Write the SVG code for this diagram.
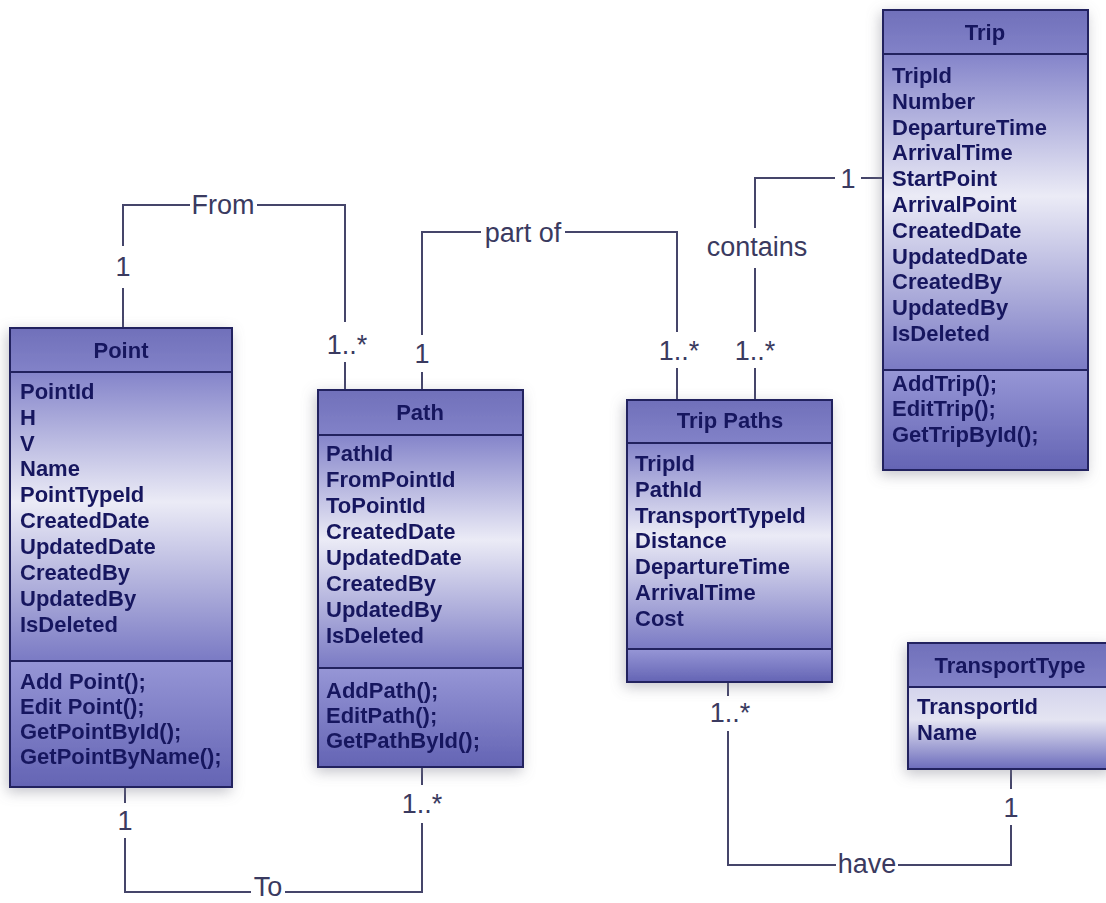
<svg xmlns="http://www.w3.org/2000/svg" width="1106" height="903" viewBox="0 0 1106 903">
<defs>
<linearGradient id="gAttr" x1="0" y1="0" x2="0" y2="1">
<stop offset="0" stop-color="#8484ca"/>
<stop offset="0.45" stop-color="#ebebf6"/>
<stop offset="1" stop-color="#7a7ac4"/>
</linearGradient>
<linearGradient id="gMeth" x1="0" y1="0" x2="0" y2="1">
<stop offset="0" stop-color="#9696d6"/>
<stop offset="1" stop-color="#6464b4"/>
</linearGradient>
<linearGradient id="gHead" x1="0" y1="0" x2="0" y2="1">
<stop offset="0" stop-color="#7070ba"/>
<stop offset="1" stop-color="#8282c8"/>
</linearGradient>
<linearGradient id="gTT" x1="0" y1="0" x2="0" y2="1">
<stop offset="0" stop-color="#d4d4ec"/>
<stop offset="0.4" stop-color="#e4e4f2"/>
<stop offset="1" stop-color="#6c6cbc"/>
</linearGradient>
<filter id="sh" x="-20%" y="-20%" width="140%" height="140%">
<feDropShadow dx="-2" dy="4" stdDeviation="7" flood-color="#7a7a8a" flood-opacity="0.45"/>
</filter>
</defs>
<style>
.frame{fill:none;stroke:#24245e;stroke-width:2}
.sep{stroke:#24245e;stroke-width:2}
.attr{fill:url(#gAttr)}
.meth{fill:url(#gMeth)}
.head{fill:url(#gHead)}
.tt{fill:url(#gTT)}
.t{font-family:"Liberation Sans",Arial,sans-serif;font-weight:bold;font-size:22px;fill:#17175e}
.ttl{text-anchor:middle}
.c{fill:none;stroke:#45456a;stroke-width:2}
.l{font-family:"Liberation Sans",Arial,sans-serif;font-size:27px;fill:#3a3a60;text-anchor:middle}
</style>
<rect width="1106" height="903" fill="#ffffff"/>

<g id="connectors">
<path class="c" d="M123,328V288M123,246V205H190M257,205H345V322M345,362V390"/>
<text class="l" x="223" y="214">From</text>
<text class="l" x="123" y="276">1</text>
<text class="l" x="347" y="354">1..*</text>

<path class="c" d="M422,390V372M422,335V232H481M565,232H677V332M677,368V400"/>
<text class="l" x="523" y="242">part of</text>
<text class="l" x="422" y="363">1</text>
<text class="l" x="679" y="360">1..*</text>

<path class="c" d="M755,400V368M755,332V268M755,228V178H835M861,178H883"/>
<text class="l" x="757" y="256">contains</text>
<text class="l" x="848" y="188">1</text>
<text class="l" x="755" y="360">1..*</text>

<path class="c" d="M728,682V696M728,731V865H836M898,865H1011V825M1011,789V769"/>
<text class="l" x="867" y="873">have</text>
<text class="l" x="730" y="722">1..*</text>
<text class="l" x="1011" y="817">1</text>

<path class="c" d="M125,787V803M125,838V892H251M285,892H422V823M422,785V767"/>
<text class="l" x="268" y="896">To</text>
<text class="l" x="125" y="830">1</text>
<text class="l" x="422" y="813">1..*</text>
</g>

<g id="point" filter="url(#sh)">
<rect class="head" x="10" y="328" width="222" height="44"/>
<rect class="attr" x="10" y="372" width="222" height="289"/>
<rect class="meth" x="10" y="661" width="222" height="126"/>
<rect class="frame" x="10" y="328" width="222" height="459"/>
<line class="sep" x1="10" y1="372" x2="232" y2="372"/>
<line class="sep" x1="10" y1="661" x2="232" y2="661"/>
<text class="t ttl" x="121" y="358">Point</text>
<text class="t" x="20" y="399">PointId</text>
<text class="t" x="20" y="425">H</text>
<text class="t" x="20" y="451">V</text>
<text class="t" x="20" y="476">Name</text>
<text class="t" x="20" y="502">PointTypeId</text>
<text class="t" x="20" y="528">CreatedDate</text>
<text class="t" x="20" y="554">UpdatedDate</text>
<text class="t" x="20" y="580">CreatedBy</text>
<text class="t" x="20" y="606">UpdatedBy</text>
<text class="t" x="20" y="632">IsDeleted</text>
<text class="t" x="20" y="689">Add Point();</text>
<text class="t" x="20" y="714">Edit Point();</text>
<text class="t" x="20" y="739">GetPointById();</text>
<text class="t" x="20" y="764">GetPointByName();</text>
</g>

<g id="path" filter="url(#sh)">
<rect class="head" x="318" y="390" width="205" height="45"/>
<rect class="attr" x="318" y="435" width="205" height="233"/>
<rect class="meth" x="318" y="668" width="205" height="99"/>
<rect class="frame" x="318" y="390" width="205" height="377"/>
<line class="sep" x1="318" y1="435" x2="523" y2="435"/>
<line class="sep" x1="318" y1="668" x2="523" y2="668"/>
<text class="t ttl" x="420" y="420">Path</text>
<text class="t" x="326" y="461">PathId</text>
<text class="t" x="326" y="487">FromPointId</text>
<text class="t" x="326" y="513">ToPointId</text>
<text class="t" x="326" y="539">CreatedDate</text>
<text class="t" x="326" y="565">UpdatedDate</text>
<text class="t" x="326" y="591">CreatedBy</text>
<text class="t" x="326" y="617">UpdatedBy</text>
<text class="t" x="326" y="643">IsDeleted</text>
<text class="t" x="326" y="698">AddPath();</text>
<text class="t" x="326" y="723">EditPath();</text>
<text class="t" x="326" y="748">GetPathById();</text>
</g>

<g id="trip-paths" filter="url(#sh)">
<rect class="head" x="627" y="400" width="205" height="43"/>
<rect class="attr" x="627" y="443" width="205" height="206"/>
<rect class="meth" x="627" y="649" width="205" height="33"/>
<rect class="frame" x="627" y="400" width="205" height="282"/>
<line class="sep" x1="627" y1="443" x2="832" y2="443"/>
<line class="sep" x1="627" y1="649" x2="832" y2="649"/>
<text class="t ttl" x="730" y="428">Trip Paths</text>
<text class="t" x="635" y="471">TripId</text>
<text class="t" x="635" y="497">PathId</text>
<text class="t" x="635" y="523">TransportTypeId</text>
<text class="t" x="635" y="548">Distance</text>
<text class="t" x="635" y="574">DepartureTime</text>
<text class="t" x="635" y="600">ArrivalTime</text>
<text class="t" x="635" y="626">Cost</text>
</g>

<g id="trip" filter="url(#sh)">
<rect class="head" x="883" y="10" width="205" height="44"/>
<rect class="attr" x="883" y="54" width="205" height="316"/>
<rect class="meth" x="883" y="370" width="205" height="100"/>
<rect class="frame" x="883" y="10" width="205" height="460"/>
<line class="sep" x1="883" y1="54" x2="1088" y2="54"/>
<line class="sep" x1="883" y1="370" x2="1088" y2="370"/>
<text class="t ttl" x="985" y="40">Trip</text>
<text class="t" x="892" y="83">TripId</text>
<text class="t" x="892" y="109">Number</text>
<text class="t" x="892" y="135">DepartureTime</text>
<text class="t" x="892" y="160">ArrivalTime</text>
<text class="t" x="892" y="186">StartPoint</text>
<text class="t" x="892" y="212">ArrivalPoint</text>
<text class="t" x="892" y="238">CreatedDate</text>
<text class="t" x="892" y="264">UpdatedDate</text>
<text class="t" x="892" y="289">CreatedBy</text>
<text class="t" x="892" y="315">UpdatedBy</text>
<text class="t" x="892" y="341">IsDeleted</text>
<text class="t" x="892" y="391">AddTrip();</text>
<text class="t" x="892" y="416">EditTrip();</text>
<text class="t" x="892" y="442">GetTripById();</text>
</g>

<g id="transport-type" filter="url(#sh)">
<rect class="head" x="908" y="643" width="204" height="44"/>
<rect class="tt" x="908" y="687" width="204" height="82"/>
<rect class="frame" x="908" y="643" width="204" height="126"/>
<line class="sep" x1="908" y1="687" x2="1112" y2="687"/>
<text class="t ttl" x="1010" y="673">TransportType</text>
<text class="t" x="917" y="714">TransportId</text>
<text class="t" x="917" y="740">Name</text>
</g>
</svg>
